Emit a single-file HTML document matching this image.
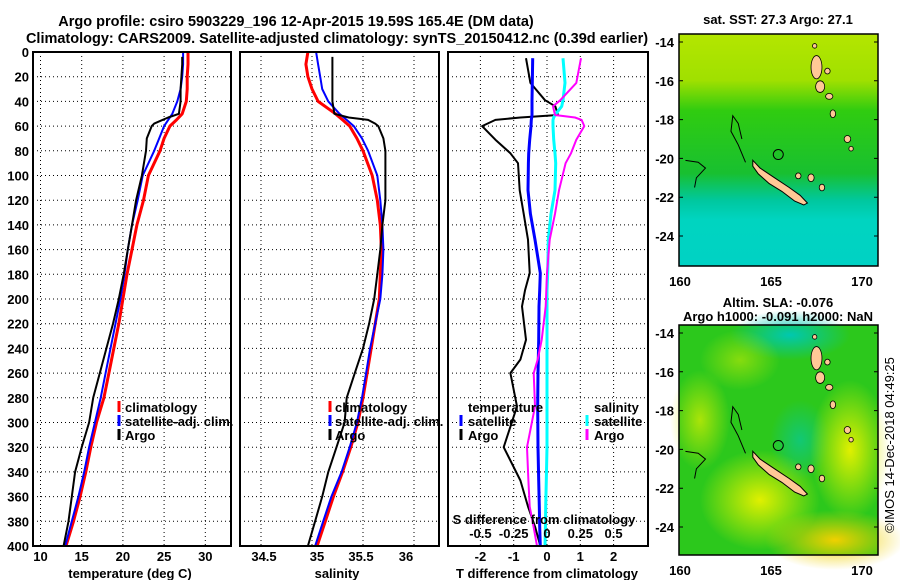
<!DOCTYPE html>
<html><head><meta charset="utf-8"><style>
body{margin:0;background:#fff}
svg{display:block;font-family:"Liberation Sans",sans-serif;font-weight:bold}
text{font-size:13px}
</style></head><body>
<svg id="c" width="900" height="580" viewBox="0 0 900 580">
<text x="296" y="26" text-anchor="middle" style="font-size:14.5px">Argo profile: csiro 5903229_196 12-Apr-2015 19.59S 165.4E (DM data)</text>
<text x="337" y="43" text-anchor="middle" style="font-size:14.5px">Climatology: CARS2009. Satellite-adjusted climatology: synTS_20150412.nc (0.39d earlier)</text>
<g id="maps"></g>
<g id="plots"></g>
<text transform="translate(894,445) rotate(-90)" text-anchor="middle" style="font-weight:normal;font-size:13px">©IMOS 14-Dec-2018 04:49:25</text>
</svg>
<script>
// ---- data ----
const depths = [0,10,20,30,40,50,55,60,70,80,100,120,140,160,180,200,220,240,260,280,300,320,340,360,380,400];
const tempClim = [27.9,27.9,27.8,27.8,27.7,27.2,26.5,25.7,25.0,24.5,23.1,22.5,21.7,21.1,20.5,20.0,19.5,18.9,18.3,17.7,16.8,16.1,15.5,14.8,14.0,13.1];
const tempSat  = [27.3,27.3,27.2,27.0,26.6,26.0,25.5,25.0,24.4,23.8,22.4,21.8,21.1,20.6,20.2,19.7,19.1,18.5,17.9,17.3,16.6,15.9,15.3,14.6,13.8,13.0];
const argoDepths = [4,10,20,30,40,50,53,55,58,60,70,80,100,120,140,160,180,200,220,240,260,280,300,320,340,360,380,400];
const tempArgo = [27.2,27.2,27.1,27.0,27.0,26.8,25.5,24.8,23.8,23.5,22.9,22.8,22.3,21.6,21.1,20.6,20.1,19.5,18.8,18.0,17.2,16.4,15.9,15.0,14.2,13.8,13.4,12.8];
const salClim = [34.96,34.94,34.96,35.0,35.06,35.23,35.3,35.37,35.44,35.5,35.59,35.64,35.67,35.68,35.67,35.66,35.62,35.58,35.54,35.5,35.45,35.38,35.3,35.21,35.13,35.05];
const salSat  = [35.04,35.06,35.08,35.1,35.16,35.27,35.34,35.41,35.49,35.55,35.64,35.67,35.69,35.7,35.69,35.67,35.62,35.57,35.53,35.49,35.44,35.37,35.29,35.19,35.11,35.03];
const salArgo = [35.2,35.2,35.2,35.2,35.2,35.22,35.36,35.55,35.62,35.65,35.7,35.72,35.72,35.72,35.69,35.67,35.64,35.61,35.56,35.5,35.42,35.34,35.32,35.24,35.16,35.1,35.03,34.96];
const diffDepths = [5,25,39,44,51,53,55,60,71,82,90,112,131,152,179,193,206,233,249,260,287,320,347,368,385,400];
const tDiffArgo = [-0.63,-0.5,-0.06,0.25,0.33,-0.8,-1.55,-1.95,-1.55,-1.1,-0.87,-0.82,-0.7,-0.57,-0.52,-0.66,-0.75,-0.63,-0.8,-1.1,-0.9,-1.3,-0.8,-0.57,-0.35,-0.2];
const tDiffSat  = [-0.43,-0.44,-0.45,-0.45,-0.45,-0.46,-0.47,-0.48,-0.52,-0.55,-0.56,-0.57,-0.5,-0.36,-0.2,-0.22,-0.24,-0.25,-0.26,-0.27,-0.28,-0.27,-0.25,-0.23,-0.22,-0.2];
const sDiffSat  = [0.12,0.135,0.12,0.11,0.06,0.05,0.045,0.045,0.05,0.06,0.065,0.06,0.03,0.01,0.005,0.0,0.0,0.0,0.0,0.0,0.0,0.0,-0.005,-0.01,-0.012,-0.015];
const sDiffArgo = [0.255,0.22,0.1,0.045,0.06,0.21,0.26,0.28,0.22,0.18,0.14,0.09,0.06,0.02,0.0,-0.005,-0.01,-0.04,-0.07,-0.1,-0.09,-0.15,-0.14,-0.13,-0.1,-0.075];
const depthTicks = [0,20,40,60,80,100,120,140,160,180,200,220,240,260,280,300,320,340,360,380,400];
const tTicks = [10,15,20,25,30];
const sTicks = [34.5,35,35.5,36];
const dTicks = [-2,-1,0,1,2];
const sdTicks = [-0.5,-0.25,0,0.25,0.5];
const lonTicks = [160,165,170];
const latTicks = [-14,-16,-18,-20,-22,-24];

const NS='http://www.w3.org/2000/svg';
const plots=document.getElementById('plots');
function el(tag,attrs,parent){const e=document.createElementNS(NS,tag);for(const k in attrs)e.setAttribute(k,attrs[k]);(parent||plots).appendChild(e);return e;}
const Y0=52,Y1=546;
const yD=d=>Y0+(d-0)*(Y1-Y0)/400;
const xT=t=>40.5+(t-10)*8.24;
const xS=s=>312+(s-35)*102;
const xDiff=v=>547+v*33.3;
const xSDiff=v=>547+v*133.2;

function panel(x0,x1,name){
  const g=el('g',{});
  
  
  return g;
}
function grid(g,x0,x1,xs){
  depthTicks.forEach(d=>{if(d>0&&d<400){const l=el('line',{x1:x0,x2:x1,y1:yD(d),y2:yD(d),stroke:'#000','stroke-width':1,'stroke-dasharray':'1,3'},g);}});
  xs.forEach(x=>{const l=el('line',{x1:x,x2:x,y1:Y0,y2:Y1,stroke:'#000','stroke-width':1,'stroke-dasharray':'1,3'},g);});
}
function frame(g,x0,x1){const r=el('rect',{x:x0,y:Y0,width:x1-x0,height:Y1-Y0,fill:'none',stroke:'#000','stroke-width':2},g);}
function line(g,xs,ys,color,w,name){
  const pts=xs.map((x,i)=>x.toFixed(1)+','+ys[i].toFixed(1)).join(' ');
  const p=el('polyline',{points:pts,fill:'none',stroke:color,'stroke-width':w,'stroke-linejoin':'round'},g);
  
  
}
function txt(g,x,y,s,anchor,name,extra){
  const t=el('text',Object.assign({x:x,y:y,'text-anchor':anchor||'middle'},extra||{}),g);t.textContent=s;
  
  
  return t;
}
function legendMark(g,x,y,color,name){const l=el('line',{x1:x,x2:x,y1:y-11,y2:y,stroke:color,'stroke-width':3},g);}

// Panel 1 temperature
let g=panel(33,231,'temperature-panel');
grid(g,33,231,tTicks.map(xT));
line(g,tempClim.map(xT),depths.map(yD),'#f00',3,'temperature-climatology-line');
line(g,tempSat.map(xT),depths.map(yD),'#00f',2,'temperature-satellite-line');
line(g,tempArgo.map(xT),argoDepths.map(yD),'#000',2,'temperature-argo-line');
frame(g,33,231);
depthTicks.forEach(d=>txt(g,29,yD(d)+5,String(d),'end','depth-tick-label'));
tTicks.forEach(t=>txt(g,xT(t),561,String(t),'middle','temperature-tick-label'));
txt(g,130,578,'temperature (deg C)','middle','temperature-axis-title');
legendMark(g,119,412,'#f00','legend-climatology-mark');txt(g,125,412,'climatology','start','legend-climatology');
legendMark(g,119,426,'#00f','legend-satellite-mark');txt(g,125,426,'satellite-adj. clim.','start','legend-satellite');
legendMark(g,119,440,'#000','legend-argo-mark');txt(g,125,440,'Argo','start','legend-argo');

// Panel 2 salinity
g=panel(240,439,'salinity-panel');
grid(g,240,439,sTicks.map(xS));
line(g,salClim.map(xS),depths.map(yD),'#f00',3,'salinity-climatology-line');
line(g,salSat.map(xS),depths.map(yD),'#00f',2,'salinity-satellite-line');
line(g,salArgo.map(xS),argoDepths.map(yD),'#000',2,'salinity-argo-line');
frame(g,240,439);
sTicks.forEach(s=>txt(g,xS(s)+(s===34.5?3:s===35?5:s===35.5?-2:-8),561,String(s),'middle','salinity-tick-label'));
txt(g,337,578,'salinity','middle','salinity-axis-title');
legendMark(g,330,412,'#f00','legend-climatology-mark');txt(g,335,412,'climatology','start','legend-climatology');
legendMark(g,330,426,'#00f','legend-satellite-mark');txt(g,335,426,'satellite-adj. clim.','start','legend-satellite');
legendMark(g,330,440,'#000','legend-argo-mark');txt(g,335,440,'Argo','start','legend-argo');

// Panel 3 differences
g=panel(448,648,'difference-panel');
grid(g,448,648,dTicks.map(xDiff));
line(g,tDiffArgo.map(xDiff),diffDepths.map(yD),'#000',2,'t-diff-argo-line');
line(g,tDiffSat.map(xDiff),diffDepths.map(yD),'#00f',3,'t-diff-satellite-line');
line(g,sDiffSat.map(xSDiff),diffDepths.map(yD),'#0ff',3,'s-diff-satellite-line');
line(g,sDiffArgo.map(xSDiff),diffDepths.map(yD),'#f0f',2,'s-diff-argo-line');
frame(g,448,648);
dTicks.forEach(t=>txt(g,xDiff(t),561,String(t),'middle','t-diff-tick-label'));
sdTicks.forEach(t=>txt(g,xSDiff(t),538,String(t),'middle','s-diff-tick-label'));
txt(g,544,524,'S difference from climatology','middle','s-diff-axis-title');
txt(g,547,578,'T difference from climatology','middle','t-diff-axis-title');
txt(g,468,412,'temperature','start','legend-temperature-heading');
legendMark(g,461,426,'#00f','legend-t-satellite-mark');txt(g,468,426,'satellite','start','legend-t-satellite');
legendMark(g,461,440,'#000','legend-t-argo-mark');txt(g,468,440,'Argo','start','legend-t-argo');
txt(g,594,412,'salinity','start','legend-salinity-heading');
legendMark(g,587,426,'#0ff','legend-s-satellite-mark');txt(g,594,426,'satellite','start','legend-s-satellite');
legendMark(g,587,440,'#f0f','legend-s-argo-mark');txt(g,594,440,'Argo','start','legend-s-argo');

// ---- maps ----
const maps=document.getElementById('maps');
const MX0=679,MX1=878;
const mx=lon=>680+(lon-160)*18.2;
const ncal=[[164.0,-20.1],[164.4,-20.5],[165.2,-21.0],[166.0,-21.5],[166.6,-21.9],[167.0,-22.3],[166.8,-22.4],[166.3,-22.2],[165.6,-21.7],[164.9,-21.3],[164.3,-20.8],[164.0,-20.4]];
const islands=[[167.5,-15.3,0.3,0.6],[167.7,-16.3,0.25,0.3],[168.2,-16.8,0.2,0.15],[168.4,-17.7,0.15,0.2],[169.2,-19.0,0.18,0.18],[169.4,-19.5,0.12,0.12],[167.2,-21.0,0.17,0.2],[167.8,-21.5,0.15,0.17],[166.5,-20.9,0.15,0.15],[168.1,-15.5,0.15,0.15],[167.4,-14.2,0.12,0.12]];
function map(y0,y1,name,title1,title2,bg){
  const g=document.createElementNS(NS,'g');maps.appendChild(g);
  
  
  const my=lat=>(y0+8)+(-14-lat)*19.4;
  g.innerHTML=bg;
  const land=document.createElementNS(NS,'polygon');
  land.setAttribute('points',ncal.map(p=>mx(p[0]).toFixed(1)+','+my(p[1]).toFixed(1)).join(' '));
  land.setAttribute('fill','#ffc896');land.setAttribute('stroke','#000');land.setAttribute('stroke-width','1');
  
  
  g.appendChild(land);
  islands.forEach(p=>{const e=document.createElementNS(NS,'ellipse');e.setAttribute('cx',mx(p[0]));e.setAttribute('cy',my(p[1]));e.setAttribute('rx',p[2]*18.2);e.setAttribute('ry',p[3]*19.4);e.setAttribute('fill','#ffc896');e.setAttribute('stroke','#000');e.setAttribute('stroke-width','0.8');
    
    
    g.appendChild(e);});
  const reef=document.createElementNS(NS,'path');
  reef.setAttribute('d',`M${mx(163.6)},${my(-20.2)} L${mx(163.2)},${my(-19.3)} L${mx(162.8)},${my(-18.6)} L${mx(162.9)},${my(-17.8)} L${mx(163.2)},${my(-18.2)} L${mx(163.4)},${my(-19.0)} M${mx(160.3)},${my(-20.1)} L${mx(161.0)},${my(-20.2)} L${mx(161.4)},${my(-20.5)} L${mx(160.9)},${my(-21.0)} L${mx(160.8)},${my(-21.5)} M${mx(165.4)},${my(-19.8)} m-5,0 a5,5 0 1,0 10,0 a5,5 0 1,0 -10,0`);
  reef.setAttribute('fill','none');reef.setAttribute('stroke','#000');reef.setAttribute('stroke-width','1');
  
  
  g.appendChild(reef);
  const fr=document.createElementNS(NS,'rect');
  fr.setAttribute('x',MX0);fr.setAttribute('y',y0);fr.setAttribute('width',MX1-MX0);fr.setAttribute('height',y1-y0);fr.setAttribute('fill','none');fr.setAttribute('stroke','#000');fr.setAttribute('stroke-width','1.5');
  
  
  g.appendChild(fr);
  latTicks.forEach(l=>{const t=document.createElementNS(NS,'text');t.setAttribute('x',674);t.setAttribute('y',my(l)+5);t.setAttribute('text-anchor','end');t.textContent=String(l);
    
    
    g.appendChild(t);
    const k=document.createElementNS(NS,'path');k.setAttribute('d',`M${MX0},${my(l)}h4M${MX1},${my(l)}h-4`);k.setAttribute('stroke','#000');
    
    
    g.appendChild(k);});
  lonTicks.forEach(l=>{const t=document.createElementNS(NS,'text');t.setAttribute('x',mx(l));t.setAttribute('y',y1+20);t.setAttribute('text-anchor','middle');t.textContent=String(l);
    
    
    g.appendChild(t);});
  [title1,title2].forEach((s,i)=>{if(!s)return;const t=document.createElementNS(NS,'text');t.setAttribute('x',778);t.setAttribute('y',(i===0?(title2?y0-18:y0-10):y0-4));t.setAttribute('text-anchor','middle');t.textContent=s;
    
    
    g.appendChild(t);});
}
const bgTop=`<defs><linearGradient id="gt" x1="0" y1="0" x2="0" y2="1"><stop offset="0" stop-color="#b4e600"/><stop offset="0.2" stop-color="#a0e000"/><stop offset="0.33" stop-color="#30cc10"/><stop offset="0.6" stop-color="#18c030"/><stop offset="0.72" stop-color="#00c8a0"/><stop offset="0.8" stop-color="#00d4c0"/><stop offset="1" stop-color="#00d2c4"/></linearGradient></defs><rect x="679" y="34" width="199" height="232" fill="url(#gt)"/>`;
const bgBot=`<defs><radialGradient id="y1" cx="0.5" cy="0.5" r="0.5"><stop offset="0" stop-color="#e0f000"/><stop offset="1" stop-color="#e0f000" stop-opacity="0"/></radialGradient><radialGradient id="y2" cx="0.5" cy="0.5" r="0.5"><stop offset="0" stop-color="#f0d000"/><stop offset="1" stop-color="#f0d000" stop-opacity="0"/></radialGradient><radialGradient id="t1" cx="0.5" cy="0.5" r="0.5"><stop offset="0" stop-color="#00c8b0"/><stop offset="1" stop-color="#00c8b0" stop-opacity="0"/></radialGradient></defs><rect x="679" y="325" width="199" height="230" fill="#2cc81c"/><ellipse cx="790" cy="335" rx="60" ry="25" fill="url(#t1)"/><ellipse cx="800" cy="440" rx="30" ry="40" fill="url(#t1)" opacity="0.6"/><ellipse cx="760" cy="500" rx="60" ry="50" fill="url(#y1)"/><ellipse cx="850" cy="450" rx="40" ry="70" fill="url(#y1)"/><ellipse cx="835" cy="540" rx="70" ry="30" fill="url(#y2)"/><ellipse cx="700" cy="420" rx="30" ry="50" fill="url(#y1)" opacity="0.7"/><ellipse cx="740" cy="360" rx="40" ry="30" fill="url(#y1)" opacity="0.5"/>`;
map(34,266,'sst-map','sat. SST: 27.3 Argo: 27.1',null,bgTop);
map(325,555,'sla-map','Altim. SLA: -0.076','Argo h1000: -0.091 h2000: NaN',bgBot);
</script>
</body></html>
